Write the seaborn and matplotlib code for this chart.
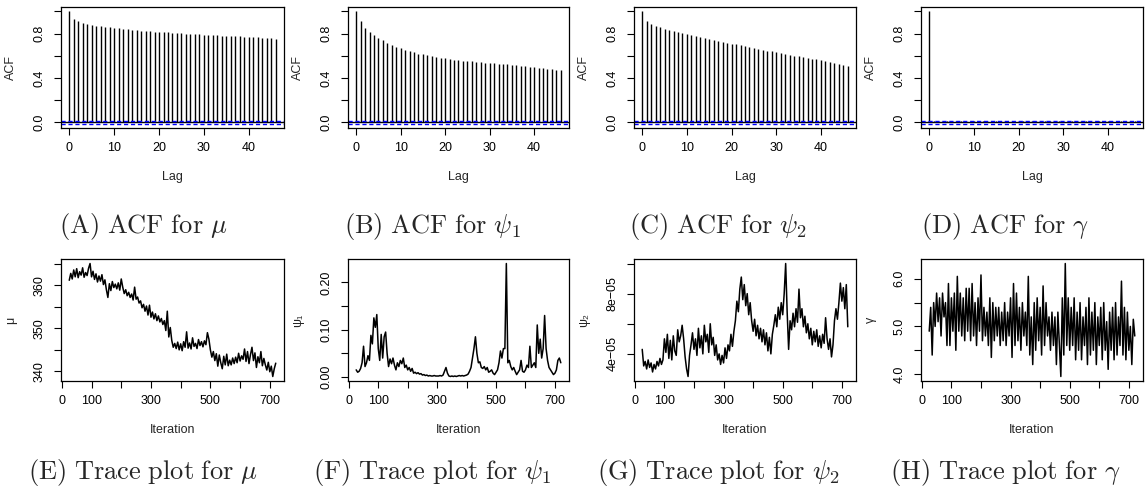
import numpy as np
import pandas as pd
import matplotlib
matplotlib.use("Agg")
import matplotlib.pyplot as plt
import seaborn as sns

# ---------------- data ----------------
acf_mu = [1.000, 0.928, 0.910, 0.898, 0.888, 0.879, 0.872, 0.866, 0.861, 0.856,
          0.852, 0.847, 0.843, 0.839, 0.835, 0.831, 0.828, 0.825, 0.822, 0.819,
          0.817, 0.814, 0.811, 0.809, 0.806, 0.804, 0.801, 0.799, 0.797, 0.794,
          0.792, 0.790, 0.788, 0.786, 0.783, 0.781, 0.779, 0.777, 0.775, 0.773,
          0.771, 0.769, 0.766, 0.764, 0.761, 0.758, 0.755]
acf_psi1 = [1.000, 0.915, 0.855, 0.818, 0.790, 0.762, 0.738, 0.718, 0.700, 0.683,
            0.667, 0.653, 0.640, 0.630, 0.620, 0.612, 0.604, 0.597, 0.590, 0.583,
            0.577, 0.571, 0.566, 0.561, 0.557, 0.553, 0.549, 0.546, 0.542, 0.539,
            0.536, 0.533, 0.529, 0.526, 0.522, 0.518, 0.514, 0.510, 0.506, 0.502,
            0.498, 0.494, 0.488, 0.482, 0.477, 0.472, 0.467]
acf_psi2 = [1.000, 0.915, 0.890, 0.872, 0.858, 0.845, 0.834, 0.823, 0.813, 0.803,
            0.794, 0.785, 0.776, 0.767, 0.759, 0.751, 0.742, 0.734, 0.726, 0.718,
            0.710, 0.702, 0.694, 0.686, 0.678, 0.670, 0.662, 0.655, 0.647, 0.640,
            0.632, 0.625, 0.617, 0.610, 0.602, 0.595, 0.588, 0.581, 0.574, 0.567,
            0.560, 0.552, 0.544, 0.536, 0.528, 0.519, 0.510]
acf_gamma = [1.000, 0.012, 0.009, 0.011, 0.008, 0.010, 0.007, 0.012, 0.009, 0.006,
             0.010, 0.008, 0.011, 0.007, 0.009, 0.012, 0.008, 0.010, 0.006, 0.009,
             0.011, 0.008, 0.010, 0.007, 0.012, 0.009, 0.008, 0.011, 0.006, 0.010,
             0.009, 0.012, 0.007, 0.010, 0.008, 0.011, 0.009, 0.006, 0.010, 0.008,
             0.012, 0.009, 0.007, 0.010, 0.008, 0.011, 0.009]
acf_ci = 0.012

trace_mu = [361.2, 362.8, 361.5, 363.6, 362.0, 363.9, 361.8, 363.2, 362.4, 364.1, 361.9, 363.0,
            362.3, 364.0, 365.1, 362.0, 363.3, 361.4, 362.7, 360.8, 362.2, 361.0,
            362.5, 360.2, 361.3, 359.0, 357.2, 360.4, 358.8, 360.9, 359.5, 360.3,
            359.2, 360.6, 358.9, 361.5, 359.6, 358.1, 359.0, 357.6, 358.4, 357.2,
            358.0, 356.6, 359.6, 356.8, 357.3, 355.9, 356.4, 354.8, 355.6, 354.0,
            355.2, 353.1, 355.4, 352.6, 353.8, 352.2, 353.4, 351.8, 352.9, 351.5,
            352.3, 350.9, 351.8, 349.5, 354.0, 348.0, 350.2, 347.2, 345.6, 346.5,
            345.3, 346.8, 345.0, 346.4, 344.8, 346.9, 345.6, 349.2, 345.4, 346.6,
            345.2, 347.8, 345.8, 346.5, 345.3, 347.4, 346.0, 346.9, 345.7, 347.1,
            346.2, 349.0, 347.5, 345.0, 343.3, 344.6, 342.5, 344.1, 341.2, 343.8,
            342.0, 340.6, 343.5, 341.5, 344.0, 341.3, 342.6, 341.5, 343.1, 341.8,
            343.3, 342.0, 344.2, 342.4, 343.6, 342.8, 345.2, 342.3, 344.6, 341.8,
            343.9, 345.6, 342.5, 344.3, 340.9, 343.4, 342.0, 344.6, 341.3, 343.0,
            341.5, 340.3, 342.1, 339.9, 341.2, 338.8, 340.6, 341.9]
trace_psi1 = [0.015, 0.010, 0.012, 0.018, 0.030, 0.065, 0.022, 0.030, 0.045, 0.035,
              0.088, 0.070, 0.125, 0.105, 0.132, 0.060, 0.035, 0.090, 0.040, 0.085,
              0.095, 0.050, 0.022, 0.038, 0.028, 0.040, 0.025, 0.015, 0.030, 0.022,
              0.035, 0.028, 0.040, 0.020, 0.025, 0.015, 0.020, 0.012, 0.018, 0.008,
              0.010, 0.007, 0.009, 0.006, 0.007, 0.004, 0.005, 0.003, 0.004, 0.002,
              0.003, 0.002, 0.002, 0.003, 0.002, 0.002, 0.002, 0.003, 0.002, 0.004,
              0.012, 0.020, 0.008, 0.002, 0.001, 0.002, 0.001, 0.002, 0.001, 0.002,
              0.003, 0.002, 0.003, 0.002, 0.003, 0.004, 0.006, 0.012, 0.020, 0.040,
              0.060, 0.085, 0.050, 0.030, 0.032, 0.020, 0.018, 0.022, 0.015, 0.020,
              0.010, 0.012, 0.015, 0.008, 0.005, 0.010, 0.015, 0.030, 0.055, 0.040,
              0.060, 0.060, 0.240, 0.030, 0.035, 0.022, 0.015, 0.020, 0.012, 0.005,
              0.010, 0.015, 0.035, 0.012, 0.010, 0.015, 0.025, 0.020, 0.065, 0.020,
              0.025, 0.030, 0.020, 0.110, 0.050, 0.080, 0.040, 0.060, 0.130, 0.060,
              0.035, 0.020, 0.015, 0.010, 0.005, 0.008, 0.015, 0.035, 0.040, 0.030]
trace_psi2_e5 = [4.3, 3.2, 3.5, 3.0, 3.6, 3.1, 3.4, 2.8, 3.3, 3.0,
                 3.5, 3.2, 3.7, 3.3, 3.6, 5.0, 4.1, 5.3, 3.7, 4.9,
                 3.6, 5.2, 4.2, 3.9, 5.6, 4.8, 5.2, 5.9, 5.0, 3.8,
                 3.0, 2.5, 3.9, 4.6, 5.4, 4.3, 5.0, 3.9, 5.7, 4.4,
                 5.2, 4.0, 5.9, 4.8, 5.3, 4.1, 6.0, 4.6, 5.1, 3.9,
                 4.6, 3.6, 4.0, 3.3, 3.9, 3.4, 4.4, 3.7, 4.6, 4.2,
                 5.3, 4.5, 5.5, 6.2, 7.5, 6.8, 8.3, 9.1, 7.6, 8.6,
                 7.2, 8.0, 6.6, 7.4, 6.2, 5.5, 6.3, 5.2, 5.9, 5.0,
                 5.7, 4.8, 5.6, 4.6, 5.4, 4.2, 5.1, 4.0, 5.3, 5.9,
                 6.6, 5.8, 7.1, 6.3, 7.4, 6.6, 8.0, 10.0, 6.8, 4.3,
                 6.2, 5.6, 6.7, 5.8, 7.0, 6.1, 8.3, 6.4, 7.0, 5.8,
                 6.5, 5.4, 6.0, 5.0, 5.7, 4.6, 5.5, 4.8, 5.6, 4.5,
                 5.2, 4.4, 5.3, 4.7, 6.4, 5.0, 4.3, 5.0, 3.8, 4.6,
                 6.2, 7.0, 6.3, 7.4, 8.7, 7.5, 8.4, 7.0, 8.6, 5.8]
trace_gamma = [4.9, 5.4, 4.4, 5.5, 5.0, 5.7, 5.1, 5.6, 4.8, 5.7,
               5.2, 5.5, 4.6, 5.9, 4.6, 5.6, 4.9, 5.7, 4.5, 6.05,
               4.9, 5.7, 4.8, 5.6, 4.7, 5.8, 4.9, 5.8, 4.7, 5.9,
               4.8, 5.5, 4.6, 5.6, 4.9, 6.08, 4.7, 5.4, 4.8, 5.3,
               4.6, 5.6, 4.35, 5.5, 4.7, 5.4, 4.8, 5.4, 4.6, 5.3,
               4.7, 5.5, 4.6, 5.3, 4.8, 5.6, 4.35, 5.9, 4.6, 5.7,
               4.7, 5.4, 4.5, 5.5, 4.8, 5.3, 4.6, 6.05, 4.4, 5.2,
               4.2, 5.5, 4.5, 5.6, 4.7, 5.4, 4.4, 5.85, 4.6, 5.5,
               4.8, 5.2, 4.5, 5.3, 4.6, 5.2, 4.2, 5.3, 4.6, 3.95,
               5.6, 4.4, 6.32, 4.6, 5.6, 4.5, 5.4, 4.6, 5.6, 4.3,
               5.3, 4.5, 5.5, 4.3, 5.2, 4.6, 5.4, 4.2, 5.6, 4.4,
               5.3, 4.5, 5.5, 4.2, 5.2, 4.6, 5.4, 4.3, 5.5, 4.5,
               5.1, 4.1, 5.3, 4.5, 5.4, 4.3, 5.5, 4.4, 5.2, 4.6,
               5.95, 4.4, 5.4, 4.3, 5.3, 4.5, 5.0, 4.2, 5.15, 4.8]
iter_start, iter_end, iter_step = 25, 720, 5

acf_captions = [r"$\mathrm{(A)\ ACF\ for}\ \mu$", r"$\mathrm{(B)\ ACF\ for}\ \psi_1$",
                r"$\mathrm{(C)\ ACF\ for}\ \psi_2$", r"$\mathrm{(D)\ ACF\ for}\ \gamma$"]
trace_captions = [r"$\mathrm{(E)\ Trace\ plot\ for}\ \mu$", r"$\mathrm{(F)\ Trace\ plot\ for}\ \psi_1$",
                  r"$\mathrm{(G)\ Trace\ plot\ for}\ \psi_2$", r"$\mathrm{(H)\ Trace\ plot\ for}\ \gamma$"]
trace_ylabels = ["μ", "ψ₁", "ψ₂", "γ"]
acf_yticks = [0.0, 0.2, 0.4, 0.6, 0.8, 1.0]
acf_yticklabels = ["0.0", "", "0.4", "", "0.8", ""]
acf_xticks = [0, 10, 20, 30, 40]
trace_xticks = [0, 100, 200, 300, 400, 500, 600, 700]
trace_xticklabels = ["0", "100", "", "300", "", "500", "", "700"]
trace_yticks = [[340, 345, 350, 355, 360, 365],
                [0.00, 0.05, 0.10, 0.15, 0.20],
                [4e-05, 6e-05, 8e-05, 1e-04],
                [4.0, 4.5, 5.0, 5.5, 6.0]]
trace_yticklabels = [["340", "", "350", "", "360", ""],
                     ["0.00", "", "0.10", "", "0.20"],
                     ["4e\u221205", "", "8e\u221205", ""],
                     ["4.0", "", "5.0", "", "6.0"]]

# ---------------- style ----------------
sns.set_style("ticks")
plt.rcParams['font.family'] = ['Liberation Sans', 'DejaVu Sans']
plt.rcParams['mathtext.fontset'] = 'cm'

W, H = 1146, 497
fig = plt.figure(figsize=(W / 100, H / 100), dpi=100)

cols = [(61, 284), (348, 569), (634, 856), (921, 1143)]
cap_x = [143, 432, 718, 1005]
top_row = (7, 128)
bot_row = (259, 381)


def rect(l, r, t, b):
    return [l / W, 1 - b / H, (r - l) / W, (b - t) / H]


def style_axes(ax):
    for s in ax.spines.values():
        s.set_color('black')
        s.set_linewidth(0.9)
        s.set_visible(True)
    ax.tick_params(direction='out', length=5, width=0.8, labelsize=9,
                   color='black', labelcolor='black', pad=5)
    ax.tick_params(axis='y', pad=6)


acfs = [acf_mu, acf_psi1, acf_psi2, acf_gamma]
traces = [trace_mu, trace_psi1, [v * 1e-5 for v in trace_psi2_e5], trace_gamma]

for k in range(4):
    l, r = cols[k]
    # ---- ACF panel ----
    ax = fig.add_axes(rect(l, r, *top_row))
    vals = np.array(acfs[k])
    lags = np.arange(len(vals))
    df = pd.DataFrame({"lag": lags, "acf": vals})
    ax.vlines(df["lag"], 0, df["acf"], color='black', lw=1.0)
    ax.axhline(0, color='black', lw=1.0)
    ax.axhline(acf_ci, color='blue', lw=1.0, ls=(0, (3, 2)))
    ax.axhline(-acf_ci, color='blue', lw=1.0, ls=(0, (3, 2)))
    lo, hi = min(-acf_ci, vals.min()), vals.max()
    ax.set_ylim(lo - 0.04 * (hi - lo), hi + 0.04 * (hi - lo))
    xr = lags.max() - lags.min()
    ax.set_xlim(lags.min() - 0.04 * xr, lags.max() + 0.04 * xr)
    ax.set_xticks(acf_xticks)
    ax.set_yticks(acf_yticks)
    ax.set_yticklabels(acf_yticklabels, rotation=90, va='center')
    style_axes(ax)
    ax.set_xlabel("Lag", fontsize=9, labelpad=12)
    ax.set_ylabel("ACF", fontsize=9, labelpad=12)
    fig.text(cap_x[k] / W, 1 - 226 / H, acf_captions[k], fontsize=19,
             ha='center', va='center')

    # ---- trace panel ----
    ax = fig.add_axes(rect(l, r, *bot_row))
    iters = np.arange(iter_start, iter_end + 1, iter_step)
    tdf = pd.DataFrame({"Iteration": iters, "value": traces[k]})
    sns.lineplot(data=tdf, x="Iteration", y="value", ax=ax, color='black', lw=1.1)
    ax.margins(x=0.04, y=0.04)
    ax.set_xticks(trace_xticks)
    ax.set_xticklabels(trace_xticklabels)
    ax.set_yticks(trace_yticks[k])
    ax.set_yticklabels(trace_yticklabels[k], rotation=90, va='center')
    style_axes(ax)
    ax.set_xlabel("Iteration", fontsize=9, labelpad=12)
    ax.set_ylabel(trace_ylabels[k], fontsize=9, labelpad=12)
    fig.text(cap_x[k] / W, 1 - 472 / H, trace_captions[k], fontsize=19,
             ha='center', va='center')

fig.savefig("out.png", dpi=100)
